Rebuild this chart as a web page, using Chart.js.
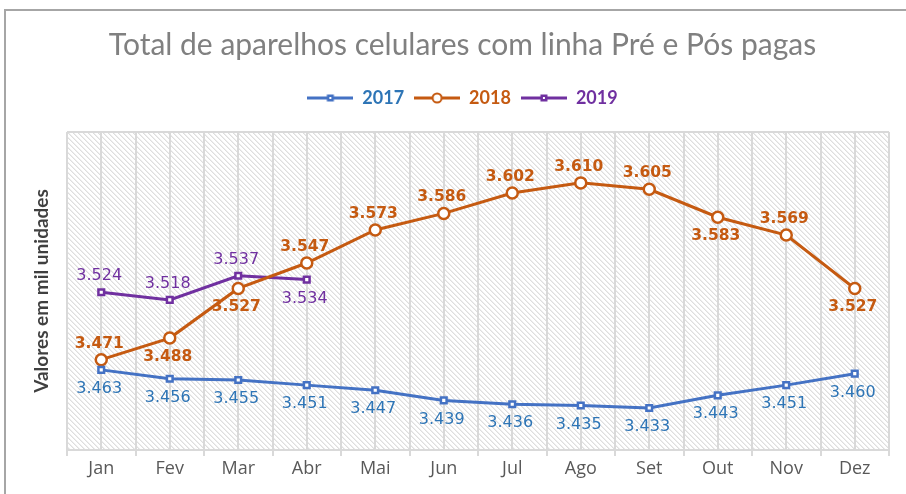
<!DOCTYPE html>
<html>
<head>
<meta charset="utf-8">
<script src="https://cdn.jsdelivr.net/npm/chart.js@4.4.0/dist/chart.umd.min.js"></script>
<style>
  html, body { margin: 0; padding: 0; background: #fff; }
  #wrap { width: 906px; height: 494px; }
</style>
</head>
<body>
<div id="wrap"><canvas id="myChart" width="906" height="494"></canvas></div>
<script>
const meses = ['Jan', 'Fev', 'Mar', 'Abr', 'Mai', 'Jun', 'Jul', 'Ago', 'Set', 'Out', 'Nov', 'Dez'];
const anos = ['2017', '2018', '2019'];
const v2017 = [3.463, 3.456, 3.455, 3.451, 3.447, 3.439, 3.436, 3.435, 3.433, 3.443, 3.451, 3.460];
const v2018 = [3.471, 3.488, 3.527, 3.547, 3.573, 3.586, 3.602, 3.610, 3.605, 3.583, 3.569, 3.527];
const v2019 = [3.524, 3.518, 3.537, 3.534];

// posizione etichette: a = sopra, b = sotto
const pos2017 = ['b', 'b', 'b', 'b', 'b', 'b', 'b', 'b', 'b', 'b', 'b', 'b'];
const pos2018 = ['a', 'b', 'b', 'a', 'a', 'a', 'a', 'a', 'a', 'b', 'a', 'b'];
const pos2019 = ['a', 'a', 'a', 'b'];

const corLinha = ['#4472C4', '#C55A11', '#7030A0'];
const corTexto = ['#2E75B6', '#C55A11', '#7030A0'];
const grade = '#d9d9d9';

function iconaLegenda(cor, forma) {
  const c = document.createElement('canvas');
  c.width = 46; c.height = 14;
  const g = c.getContext('2d');
  g.strokeStyle = cor;
  g.lineWidth = 3;
  g.beginPath(); g.moveTo(0, 7); g.lineTo(46, 7); g.stroke();
  g.lineWidth = 2;
  g.fillStyle = '#fff';
  if (forma === 'circle') {
    g.beginPath(); g.arc(23, 7, 4.5, 0, Math.PI * 2); g.fill(); g.stroke();
  } else {
    g.fillStyle = cor;
    g.fillRect(19.5, 3.5, 7, 7);
    g.fillStyle = '#fff';
    g.fillRect(22, 6, 2, 2);
  }
  return c;
}
const icone = [iconaLegenda(corLinha[0], 'rect'), iconaLegenda(corLinha[1], 'circle'), iconaLegenda(corLinha[2], 'rect')];

function tratteggio() {
  const c = document.createElement('canvas');
  c.width = 5; c.height = 5;
  const g = c.getContext('2d');
  g.fillStyle = '#fff';
  g.fillRect(0, 0, 5, 5);
  g.fillStyle = '#dedede';
  for (let i = 0; i < 5; i++) {
    g.fillRect(i, i, 1, 1);
  }
  g.fillStyle = '#eeeeee';
  for (let i = 0; i < 5; i++) {
    g.fillRect((i + 1) % 5, i, 1, 1);
  }
  return c;
}

const sfondo = {
  id: 'sfondo',
  beforeDraw(chart) {
    const { ctx, chartArea: a } = chart;
    ctx.save();
    ctx.strokeStyle = '#a6a6a6';
    ctx.lineWidth = 2;
    ctx.beginPath();
    ctx.moveTo(5, 494); ctx.lineTo(5, 10); ctx.lineTo(906, 10);
    ctx.stroke();
    ctx.fillStyle = ctx.createPattern(tratteggio(), 'repeat');
    ctx.fillRect(a.left, a.top, a.right - a.left, a.bottom - a.top);
    ctx.restore();
  }
};

const etichette = {
  id: 'etichette',
  afterDatasetsDraw(chart) {
    const { ctx } = chart;
    const posizioni = [pos2017, pos2018, pos2019];
    ctx.save();
    ctx.textAlign = 'center';
    ctx.textBaseline = 'middle';
    chart.data.datasets.forEach((ds, i) => {
      const meta = chart.getDatasetMeta(i);
      ctx.fillStyle = corTexto[i];
      ctx.font = (i === 1 ? 'bold 15.5px' : '16px') + ' "DejaVu Sans"';
      meta.data.forEach((pt, j) => {
        const sopra = posizioni[i][j] === 'a';
        const dy = sopra ? -16 : 19;
        ctx.fillText(ds.data[j].toFixed(3), pt.x - 2, pt.y + dy);
      });
    });
    ctx.restore();
  }
};

const ctx = document.getElementById('myChart').getContext('2d');
const chart = new Chart(ctx, {
  type: 'line',
  data: {
    labels: meses,
    datasets: [
      { label: anos[0], data: v2017, borderColor: corLinha[0], backgroundColor: corLinha[0], borderWidth: 3,
        pointStyle: 'rect', pointRadius: 4, pointBorderWidth: 2.5, pointBackgroundColor: '#fff', pointBorderColor: corLinha[0] },
      { label: anos[1], data: v2018, borderColor: corLinha[1], backgroundColor: corLinha[1], borderWidth: 3,
        pointStyle: 'circle', pointRadius: 5.5, pointBorderWidth: 2.5, pointBackgroundColor: '#fff', pointBorderColor: corLinha[1] },
      { label: anos[2], data: v2019, borderColor: corLinha[2], backgroundColor: corLinha[2], borderWidth: 3,
        pointStyle: 'rect', pointRadius: 4, pointBorderWidth: 2.5, pointBackgroundColor: '#fff', pointBorderColor: corLinha[2] }
    ]
  },
  options: {
    responsive: false,
    animation: false,
    layout: { padding: { left: 36, right: 17, top: 0, bottom: 0 } },
    plugins: {
      tooltip: { enabled: false },
      title: {
        display: true,
        text: 'Total de aparelhos celulares com linha Pré e Pós pagas',
        color: '#808080',
        font: { family: 'Lato', size: 30, weight: 'normal' },
        padding: { top: 27, bottom: 16 }
      },
      legend: {
        display: true,
        labels: {
          usePointStyle: true,
          pointStyleWidth: 46,
          boxHeight: 14,
          padding: 10,
          font: { family: 'Lato', size: 18, weight: 'bold' },
          generateLabels: (c) => c.data.datasets.map((ds, i) => ({
            text: ds.label,
            fillStyle: corLinha[i],
            strokeStyle: corLinha[i],
            lineWidth: 0,
            pointStyle: icone[i],
            fontColor: corTexto[i],
            hidden: false,
            datasetIndex: i
          }))
        }
      }
    },
    scales: {
      x: {
        type: 'category',
        offset: true,
        grid: { offset: true, color: grade, lineWidth: 2, tickLength: 6 },
        border: { color: grade, width: 2 },
        ticks: { color: '#595959', font: { family: 'Open Sans', size: 18 }, padding: 2 },
        afterFit: (s) => { s.height = 44; }
      },
      x2: {
        type: 'category',
        labels: meses,
        position: 'top',
        offset: true,
        grid: { offset: false, color: grade, lineWidth: 2, drawTicks: false },
        border: { display: false },
        ticks: { display: false },
        afterFit: (s) => { s.height = 15; }
      },
      y: {
        min: 3.4,
        max: 3.65,
        ticks: { display: false, stepSize: 0.05 },
        grid: {
          drawTicks: false,
          lineWidth: 2,
          color: (c) => (c.tick && c.tick.value > 3.649 ? grade : 'transparent')
        },
        border: { display: false },
        title: {
          display: true,
          text: 'Valores em mil unidades',
          color: '#404040',
          font: { family: 'Lato', size: 19, weight: 'bold' },
          padding: { top: -5.5, bottom: 0 }
        },
        afterFit: (s) => { s.width = 31; }
      }
    }
  },
  plugins: [sfondo, etichette]
});
</script>
</body>
</html>
